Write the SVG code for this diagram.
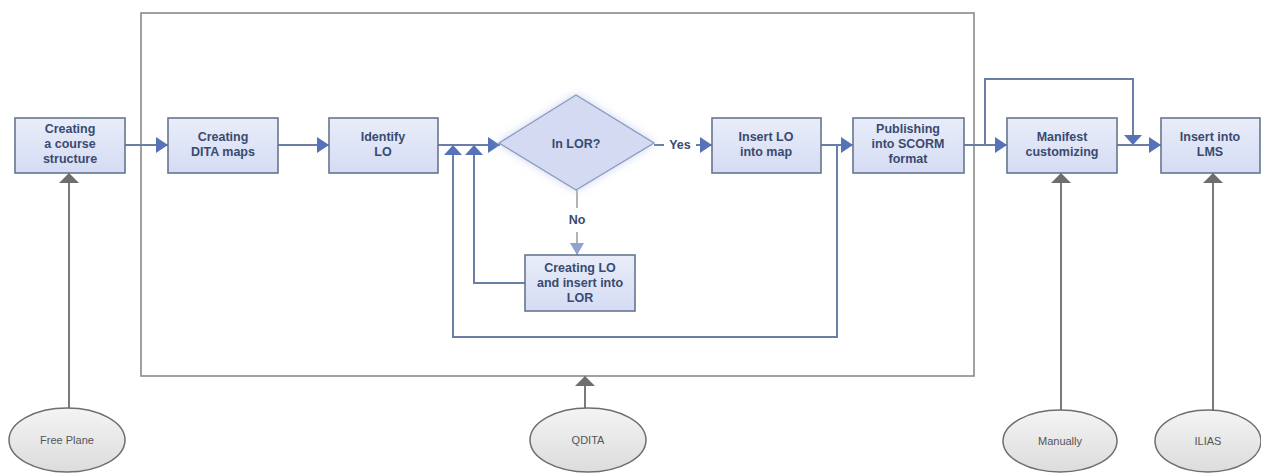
<svg xmlns="http://www.w3.org/2000/svg" width="1261" height="473" viewBox="0 0 1261 473">
<style>
.box{fill:url(#bg);stroke:#66768f;stroke-width:1.6}
.t{font-family:"Liberation Sans",Arial,sans-serif;font-size:12.5px;fill:#3a4a70;text-anchor:middle;font-weight:700}
.lbl{font-family:"Liberation Sans",Arial,sans-serif;font-size:12.5px;fill:#3a4a70;text-anchor:middle;font-weight:700}
.c{fill:none;stroke:#6b7ea6;stroke-width:2}
.g{fill:none;stroke:#7a7a7a;stroke-width:2}
.gl{fill:none;stroke:#a0a0a0;stroke-width:1.6}
.ell{fill:url(#eg);stroke:#6e6e6e;stroke-width:1.5}
.et{font-family:"Liberation Sans",Arial,sans-serif;font-size:11px;fill:#555;text-anchor:middle}
</style>
<defs>
<linearGradient id="bg" x1="0" y1="0" x2="0" y2="1"><stop offset="0" stop-color="#e9edfa"/><stop offset="1" stop-color="#d5dcf3"/></linearGradient>
<linearGradient id="eg" x1="0" y1="0" x2="0" y2="1"><stop offset="0" stop-color="#f4f4f4"/><stop offset="1" stop-color="#dcdcdc"/></linearGradient>
<filter id="glow" x="-20%" y="-20%" width="140%" height="140%"><feGaussianBlur in="SourceAlpha" stdDeviation="4" result="b"/><feFlood flood-color="#b8c4ea" flood-opacity="0.7" result="f"/><feComposite in="f" in2="b" operator="in" result="s"/><feMerge><feMergeNode in="s"/><feMergeNode in="SourceGraphic"/></feMerge></filter>
<marker id="ah" markerWidth="12" markerHeight="16" refX="12" refY="8" orient="auto" markerUnits="userSpaceOnUse"><path d="M0,0 L12,8 L0,16 z" fill="#5672b8"/></marker>
<marker id="af" markerWidth="10" markerHeight="18" refX="10" refY="9" orient="auto" markerUnits="userSpaceOnUse"><path d="M0,0 L10,9 L0,18 z" fill="#5672b8"/></marker>
<marker id="al" markerWidth="12" markerHeight="14" refX="12" refY="7" orient="auto" markerUnits="userSpaceOnUse"><path d="M0,0 L12,7 L0,14 z" fill="#8fa2d0"/></marker>
<marker id="ag" markerWidth="10" markerHeight="20" refX="10" refY="10" orient="auto" markerUnits="userSpaceOnUse"><path d="M0,0 L10,10 L0,20 z" fill="#6e6e6e"/></marker>
</defs>

<rect id="frame" x="141" y="13" width="833" height="363" fill="none" stroke="#8a8a8a" stroke-width="1.6"/>

<g id="connectors">
<line class="c" x1="125" y1="145" x2="168" y2="145" marker-end="url(#ah)"/>
<line class="c" x1="278" y1="145" x2="329" y2="145" marker-end="url(#ah)"/>
<line class="c" x1="438" y1="145" x2="500" y2="145" marker-end="url(#ah)"/>
<line class="c" x1="821" y1="145" x2="853" y2="145" marker-end="url(#ah)"/>
<line class="c" x1="964" y1="145" x2="1007" y2="145" marker-end="url(#ah)"/>
<line class="c" x1="1117" y1="145" x2="1161" y2="145" marker-end="url(#ah)"/>
<line class="c" x1="654" y1="145" x2="664" y2="145"/>
<line class="c" x1="696" y1="145" x2="712" y2="145" marker-end="url(#ah)"/>
<polyline class="c" points="837,145 837,337 453,337 453,145" marker-end="url(#af)"/>
<polyline class="c" points="525,283 474,283 474,145" marker-end="url(#af)"/>
<polyline class="c" points="985,145 985,79 1133,79 1133,145" marker-end="url(#af)"/>
<line class="gl" x1="577" y1="190" x2="577" y2="208"/>
<line class="gl" x1="577" y1="232" x2="577" y2="255" marker-end="url(#al)"/>
<line class="g" x1="69" y1="408" x2="69" y2="173" marker-end="url(#ag)"/>
<line class="g" x1="585" y1="408" x2="585" y2="376" marker-end="url(#ag)"/>
<line class="g" x1="1061" y1="410" x2="1061" y2="173" marker-end="url(#ag)"/>
<line class="g" x1="1213" y1="410" x2="1213" y2="173" marker-end="url(#ag)"/>
<text class="lbl" x="680" y="149">Yes</text>
<text class="lbl" x="577" y="224">No</text>
</g>

<g id="course">
<rect class="box" x="15" y="118" width="110" height="55"/>
<text class="t" x="70" y="133">Creating</text>
<text class="t" x="70" y="148">a course</text>
<text class="t" x="70" y="163">structure</text>
</g>
<g id="dita">
<rect class="box" x="168" y="118" width="110" height="55"/>
<text class="t" x="223" y="141">Creating</text>
<text class="t" x="223" y="156">DITA maps</text>
</g>
<g id="identify">
<rect class="box" x="329" y="118" width="109" height="55"/>
<text class="t" x="383" y="141">Identify</text>
<text class="t" x="383" y="156">LO</text>
</g>
<g id="inlor">
<polygon points="499,143 576,95 654,143 576,190" fill="#d3daf2" stroke="#8c9cc0" stroke-width="1.4" filter="url(#glow)"/>
<text class="t" x="576" y="148">In LOR?</text>
</g>
<g id="insertlo">
<rect class="box" x="712" y="118" width="109" height="55"/>
<text class="t" x="766" y="141">Insert LO</text>
<text class="t" x="766" y="156">into map</text>
</g>
<g id="publish">
<rect class="box" x="853" y="118" width="111" height="55"/>
<text class="t" x="908" y="133">Publishing</text>
<text class="t" x="908" y="148">into SCORM</text>
<text class="t" x="908" y="163">format</text>
</g>
<g id="manifest">
<rect class="box" x="1007" y="118" width="110" height="55"/>
<text class="t" x="1062" y="141">Manifest</text>
<text class="t" x="1062" y="156">customizing</text>
</g>
<g id="lms">
<rect class="box" x="1161" y="118" width="99" height="55"/>
<text class="t" x="1210" y="141">Insert into</text>
<text class="t" x="1210" y="156">LMS</text>
</g>
<g id="createlo">
<rect class="box" x="525" y="255" width="110" height="56"/>
<text class="t" x="580" y="272">Creating LO</text>
<text class="t" x="580" y="287">and insert into</text>
<text class="t" x="580" y="302">LOR</text>
</g>
<g id="freeplane">
<ellipse class="ell" cx="67" cy="440" rx="58" ry="32"/>
<text class="et" x="67" y="444">Free Plane</text>
</g>
<g id="qdita">
<ellipse class="ell" cx="588" cy="440" rx="58" ry="32"/>
<text class="et" x="588" y="444">QDITA</text>
</g>
<g id="manually">
<ellipse class="ell" cx="1060" cy="441" rx="57" ry="31"/>
<text class="et" x="1060" y="445">Manually</text>
</g>
<g id="ilias">
<ellipse class="ell" cx="1208" cy="441" rx="53" ry="31"/>
<text class="et" x="1208" y="445">ILIAS</text>
</g>
</svg>
